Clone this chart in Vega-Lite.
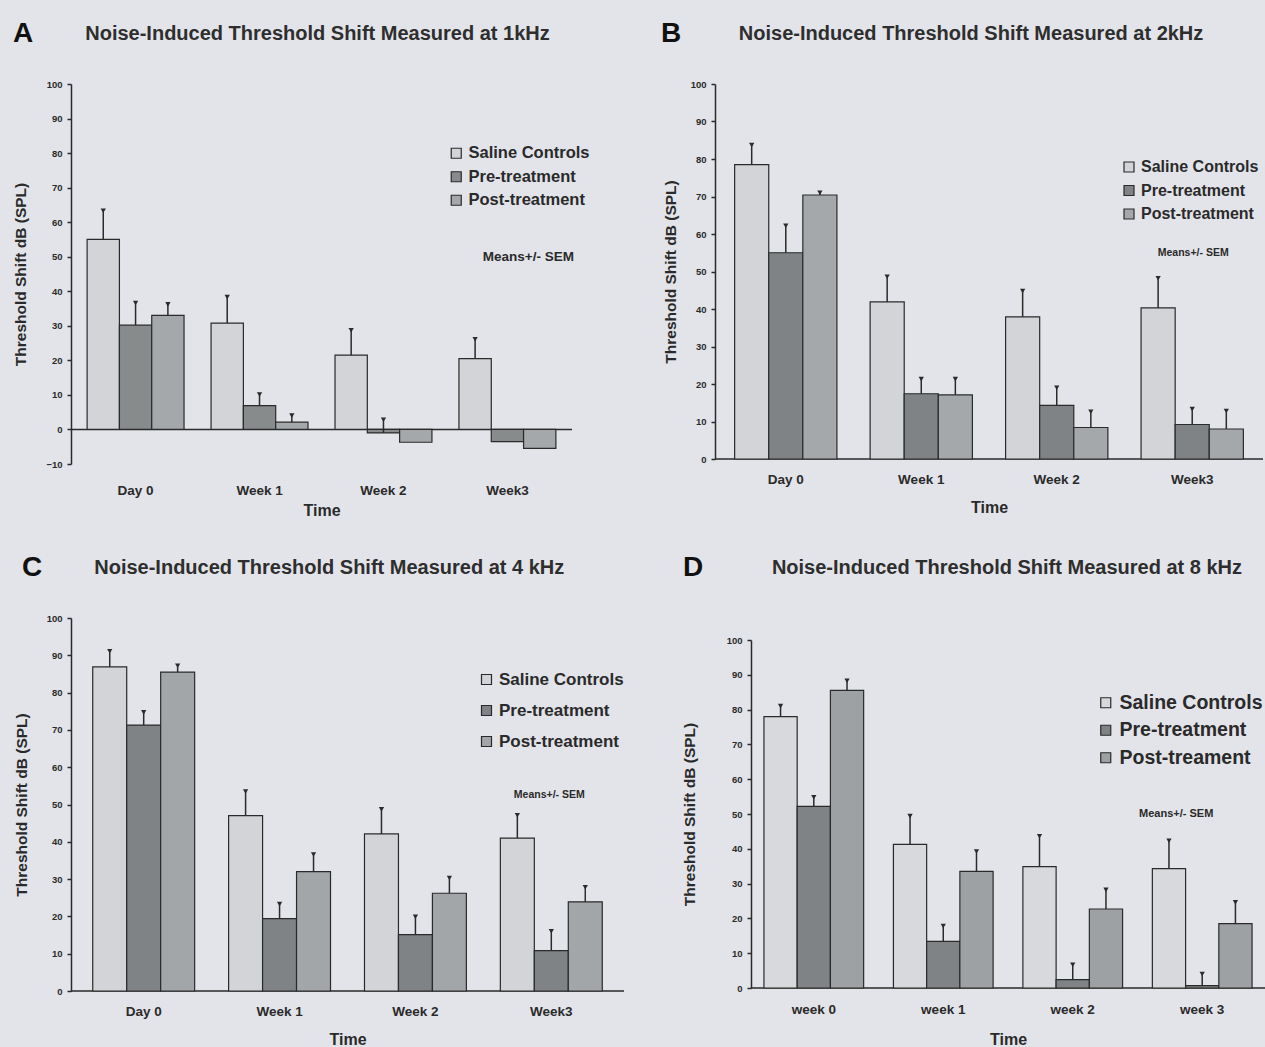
{
  "$schema": "https://vega.github.io/schema/vega-lite/v6.json",
  "background": "#e3e4e9",
  "padding": {"left": 13, "top": 20, "right": 0, "bottom": 0},
  "config": {
    "font": "Liberation Sans",
    "view": {"stroke": null},
    "axis": {"grid": false, "labelFont": "Liberation Sans", "labelFontWeight": "bold", "labelColor": "#2a2a2a", "titleFont": "Liberation Sans", "titleFontWeight": "bold", "titleColor": "#2a2a2a", "domainColor": "#2a2a2a", "tickColor": "#2a2a2a"},
    "axisY": {"labelFontSize": 9.5, "labelOverlap": false, "tickCount": 20, "tickSize": 4, "domainWidth": 1.5, "tickWidth": 1.5, "labelPadding": 5, "titleFontSize": 15.5, "titlePadding": 12},
    "axisX": {"labelFontSize": 13.5, "labelOverlap": false, "titleFontSize": 16, "domain": false, "ticks": false, "labelAngle": 0},
    "legend": {"symbolType": "square", "symbolSize": 100, "symbolStrokeColor": "#2a2a2a", "symbolStrokeWidth": 1.2, "labelFont": "Liberation Sans", "labelFontWeight": "bold", "labelColor": "#2a2a2a", "labelFontSize": 16.5, "labelOffset": 4},
    "title": {"anchor": "start", "frame": "group", "font": "Liberation Sans", "fontSize": 28, "fontWeight": "bold", "color": "#111111", "subtitleFont": "Liberation Sans", "subtitleFontSize": 20, "subtitleFontWeight": "bold", "subtitleColor": "#2e2e2e", "subtitlePadding": -24}
  },
  "datasets": {
    "bars": [
      {"panel": "A", "time": "Day 0", "group": "Saline Controls", "v": 55, "hi": 63.3},
      {"panel": "A", "time": "Day 0", "group": "Pre-treatment", "v": 30.2, "hi": 36.6},
      {"panel": "A", "time": "Day 0", "group": "Post-treatment", "v": 33, "hi": 36.2},
      {"panel": "A", "time": "Week 1", "group": "Saline Controls", "v": 30.8, "hi": 38.3},
      {"panel": "A", "time": "Week 1", "group": "Pre-treatment", "v": 6.9, "hi": 10.1},
      {"panel": "A", "time": "Week 1", "group": "Post-treatment", "v": 2.1, "hi": 4.0},
      {"panel": "A", "time": "Week 2", "group": "Saline Controls", "v": 21.5, "hi": 28.7},
      {"panel": "A", "time": "Week 2", "group": "Pre-treatment", "v": -1, "hi": 2.8},
      {"panel": "A", "time": "Week 2", "group": "Post-treatment", "v": -3.7},
      {"panel": "A", "time": "Week3", "group": "Saline Controls", "v": 20.5, "hi": 26.1},
      {"panel": "A", "time": "Week3", "group": "Pre-treatment", "v": -3.5},
      {"panel": "A", "time": "Week3", "group": "Post-treatment", "v": -5.5},

      {"panel": "B", "time": "Day 0", "group": "Saline Controls", "v": 78.5, "hi": 83.7},
      {"panel": "B", "time": "Day 0", "group": "Pre-treatment", "v": 55, "hi": 62.2},
      {"panel": "B", "time": "Day 0", "group": "Post-treatment", "v": 70.4, "hi": 71},
      {"panel": "B", "time": "Week 1", "group": "Saline Controls", "v": 41.9, "hi": 48.6},
      {"panel": "B", "time": "Week 1", "group": "Pre-treatment", "v": 17.4, "hi": 21.3},
      {"panel": "B", "time": "Week 1", "group": "Post-treatment", "v": 17.1, "hi": 21.3},
      {"panel": "B", "time": "Week 2", "group": "Saline Controls", "v": 37.9, "hi": 44.8},
      {"panel": "B", "time": "Week 2", "group": "Pre-treatment", "v": 14.3, "hi": 19},
      {"panel": "B", "time": "Week 2", "group": "Post-treatment", "v": 8.4, "hi": 12.6},
      {"panel": "B", "time": "Week3", "group": "Saline Controls", "v": 40.3, "hi": 48.2},
      {"panel": "B", "time": "Week3", "group": "Pre-treatment", "v": 9.2, "hi": 13.3},
      {"panel": "B", "time": "Week3", "group": "Post-treatment", "v": 8, "hi": 12.8},

      {"panel": "C", "time": "Day 0", "group": "Saline Controls", "v": 86.9, "hi": 91.1},
      {"panel": "C", "time": "Day 0", "group": "Pre-treatment", "v": 71.3, "hi": 74.7},
      {"panel": "C", "time": "Day 0", "group": "Post-treatment", "v": 85.5, "hi": 87.2},
      {"panel": "C", "time": "Week 1", "group": "Saline Controls", "v": 47, "hi": 53.5},
      {"panel": "C", "time": "Week 1", "group": "Pre-treatment", "v": 19.4, "hi": 23.3},
      {"panel": "C", "time": "Week 1", "group": "Post-treatment", "v": 32, "hi": 36.6},
      {"panel": "C", "time": "Week 2", "group": "Saline Controls", "v": 42.1, "hi": 48.7},
      {"panel": "C", "time": "Week 2", "group": "Pre-treatment", "v": 15.1, "hi": 19.9},
      {"panel": "C", "time": "Week 2", "group": "Post-treatment", "v": 26.2, "hi": 30.3},
      {"panel": "C", "time": "Week3", "group": "Saline Controls", "v": 41, "hi": 47.1},
      {"panel": "C", "time": "Week3", "group": "Pre-treatment", "v": 10.8, "hi": 16},
      {"panel": "C", "time": "Week3", "group": "Post-treatment", "v": 23.9, "hi": 27.8},

      {"panel": "D", "time": "week 0", "group": "Saline Controls", "v": 78, "hi": 81},
      {"panel": "D", "time": "week 0", "group": "Pre-treatment", "v": 52.2, "hi": 54.8},
      {"panel": "D", "time": "week 0", "group": "Post-treament", "v": 85.5, "hi": 88.3},
      {"panel": "D", "time": "week 1", "group": "Saline Controls", "v": 41.3, "hi": 49.4},
      {"panel": "D", "time": "week 1", "group": "Pre-treatment", "v": 13.4, "hi": 17.8},
      {"panel": "D", "time": "week 1", "group": "Post-treament", "v": 33.5, "hi": 39.2},
      {"panel": "D", "time": "week 2", "group": "Saline Controls", "v": 34.9, "hi": 43.6},
      {"panel": "D", "time": "week 2", "group": "Pre-treatment", "v": 2.4, "hi": 6.7},
      {"panel": "D", "time": "week 2", "group": "Post-treament", "v": 22.7, "hi": 28.2},
      {"panel": "D", "time": "week 3", "group": "Saline Controls", "v": 34.3, "hi": 42.3},
      {"panel": "D", "time": "week 3", "group": "Pre-treatment", "v": 0.7, "hi": 4.0},
      {"panel": "D", "time": "week 3", "group": "Post-treament", "v": 18.5, "hi": 24.6}
    ]
  },
  "resolve": {"scale": {"x": "independent", "y": "independent", "color": "independent", "xOffset": "independent"}, "legend": {"color": "independent"}},
  "spacing": 35,
  "vconcat": [
    {
      "spacing": 71,
      "resolve": {"scale": {"x": "independent", "y": "independent", "color": "independent", "xOffset": "independent"}, "legend": {"color": "independent"}},
      "hconcat": [
        {
          "width": 501, "height": 380,
          "title": {"text": "A", "subtitle": "\u200b\u00a0\u00a0\u00a0\u00a0\u00a0\u00a0\u00a0\u00a0\u00a0\u00a0\u00a0\u00a0\u00a0Noise-Induced Threshold Shift Measured at 1kHz", "dx": -58, "offset": 31},
          "data": {"name": "bars"},
          "transform": [{"filter": "datum.panel === 'A'"}],
          "layer": [
            {"data": {"values": [{"zero": 0}]}, "mark": {"type": "rule", "color": "#2a2a2a", "strokeWidth": 1.5}, "encoding": {"y": {"field": "zero", "type": "quantitative"}}},
            {"mark": {"type": "bar", "stroke": "#2a2a2a", "strokeWidth": 1.2},
             "encoding": {
               "x": {"field": "time", "type": "nominal", "scale": {"domain": ["Day 0", "Week 1", "Week 2", "Week3"], "paddingInner": 0.218, "paddingOuter": 0.13}, "axis": {"title": "Time", "labelPadding": 19, "titlePadding": 6}},
               "xOffset": {"field": "group", "type": "nominal", "scale": {"domain": ["Saline Controls", "Pre-treatment", "Post-treatment"], "paddingInner": 0, "paddingOuter": 0}},
               "y": {"field": "v", "type": "quantitative", "scale": {"domain": [-10, 100], "nice": false}, "axis": {"title": "Threshold Shift dB (SPL)", "labelOverlap": false, "tickCount": 20, "titlePadding": 17, "values": [-10, 0, 10, 20, 30, 40, 50, 60, 70, 80, 90, 100]}},
               "color": {"field": "group", "type": "nominal", "scale": {"domain": ["Saline Controls", "Pre-treatment", "Post-treatment"], "range": ["#d3d4d7", "#878b8c", "#a5a8aa"]}, "legend": {"title": null, "orient": "none", "legendX": 377, "legendY": 61, "rowPadding": 6.5}}
             }},
            {"transform": [{"filter": "isValid(datum.hi)"}], "mark": {"type": "rule", "color": "#2a2a2a", "strokeWidth": 1.5},
             "encoding": {"x": {"field": "time", "type": "nominal"}, "xOffset": {"field": "group", "type": "nominal"}, "y": {"field": "v", "type": "quantitative"}, "y2": {"field": "hi"}}},
            {"transform": [{"filter": "isValid(datum.hi)"}], "mark": {"type": "point", "shape": "triangle-down", "filled": true, "size": 28, "color": "#2a2a2a", "opacity": 1},
             "encoding": {"x": {"field": "time", "type": "nominal"}, "xOffset": {"field": "group", "type": "nominal"}, "y": {"field": "hi", "type": "quantitative"}}},
            {"data": {"values": [{"time": "Week3", "y": 50, "note": "Means+/- SEM"}]}, "mark": {"type": "text", "fontSize": 13.5, "fontWeight": "bold", "dx": 21, "color": "#2a2a2a"},
             "encoding": {"x": {"field": "time", "type": "nominal"}, "y": {"field": "y", "type": "quantitative"}, "text": {"field": "note"}}}
          ]
        },
        {
          "width": 548, "height": 375,
          "title": {"text": "B", "subtitle": "\u200b\u00a0\u00a0\u00a0\u00a0\u00a0\u00a0\u00a0\u00a0\u00a0\u00a0\u00a0\u00a0\u00a0\u00a0Noise-Induced Threshold Shift Measured at 2kHz", "dx": -54, "offset": 31},
          "data": {"name": "bars"},
          "transform": [{"filter": "datum.panel === 'B'"}],
          "layer": [
            {"data": {"values": [{"zero": 0}]}, "mark": {"type": "rule", "color": "#2a2a2a", "strokeWidth": 1.5}, "encoding": {"y": {"field": "zero", "type": "quantitative"}}},
            {"mark": {"type": "bar", "stroke": "#2a2a2a", "strokeWidth": 1.2},
             "encoding": {
               "x": {"field": "time", "type": "nominal", "scale": {"domain": ["Day 0", "Week 1", "Week 2", "Week3"], "paddingInner": 0.245, "paddingOuter": 0.145}, "axis": {"title": "Time", "labelPadding": 13, "titlePadding": 14}},
               "xOffset": {"field": "group", "type": "nominal", "scale": {"domain": ["Saline Controls", "Pre-treatment", "Post-treatment"], "paddingInner": 0, "paddingOuter": 0}},
               "y": {"field": "v", "type": "quantitative", "scale": {"domain": [0, 100], "nice": false}, "axis": {"title": "Threshold Shift dB (SPL)", "labelOverlap": false, "tickCount": 20, "values": [0, 10, 20, 30, 40, 50, 60, 70, 80, 90, 100]}},
               "color": {"field": "group", "type": "nominal", "scale": {"domain": ["Saline Controls", "Pre-treatment", "Post-treatment"], "range": ["#d3d4d7", "#7f8385", "#a5a8aa"]}, "legend": {"title": null, "orient": "none", "legendX": 406, "legendY": 75, "rowPadding": 7.5, "labelFontSize": 16}}
             }},
            {"transform": [{"filter": "isValid(datum.hi)"}], "mark": {"type": "rule", "color": "#2a2a2a", "strokeWidth": 1.5},
             "encoding": {"x": {"field": "time", "type": "nominal"}, "xOffset": {"field": "group", "type": "nominal"}, "y": {"field": "v", "type": "quantitative"}, "y2": {"field": "hi"}}},
            {"transform": [{"filter": "isValid(datum.hi)"}], "mark": {"type": "point", "shape": "triangle-down", "filled": true, "size": 28, "color": "#2a2a2a", "opacity": 1},
             "encoding": {"x": {"field": "time", "type": "nominal"}, "xOffset": {"field": "group", "type": "nominal"}, "y": {"field": "hi", "type": "quantitative"}}},
            {"data": {"values": [{"time": "Week3", "y": 55, "note": "Means+/- SEM"}]}, "mark": {"type": "text", "fontSize": 10.5, "fontWeight": "bold", "dx": 1, "color": "#2a2a2a"},
             "encoding": {"x": {"field": "time", "type": "nominal"}, "y": {"field": "y", "type": "quantitative"}, "text": {"field": "note"}}}
          ]
        }
      ]
    },
    {
      "spacing": 57,
      "resolve": {"scale": {"x": "independent", "y": "independent", "color": "independent", "xOffset": "independent"}, "legend": {"color": "independent"}},
      "hconcat": [
        {
          "width": 553, "height": 373,
          "title": {"text": "C", "subtitle": "\u200b\u00a0\u00a0\u00a0\u00a0\u00a0\u00a0\u00a0\u00a0\u00a0\u00a0\u00a0\u00a0\u00a0Noise-Induced Threshold Shift Measured at 4 kHz", "dx": -49, "offset": 31},
          "data": {"name": "bars"},
          "transform": [{"filter": "datum.panel === 'C'"}],
          "layer": [
            {"data": {"values": [{"zero": 0}]}, "mark": {"type": "rule", "color": "#2a2a2a", "strokeWidth": 1.5}, "encoding": {"y": {"field": "zero", "type": "quantitative"}}},
            {"mark": {"type": "bar", "stroke": "#2a2a2a", "strokeWidth": 1.2},
             "encoding": {
               "x": {"field": "time", "type": "nominal", "scale": {"domain": ["Day 0", "Week 1", "Week 2", "Week3"], "paddingInner": 0.25, "paddingOuter": 0.16}, "axis": {"title": "Time", "labelPadding": 13, "titlePadding": 14}},
               "xOffset": {"field": "group", "type": "nominal", "scale": {"domain": ["Saline Controls", "Pre-treatment", "Post-treatment"], "paddingInner": 0, "paddingOuter": 0}},
               "y": {"field": "v", "type": "quantitative", "scale": {"domain": [0, 100], "nice": false}, "axis": {"title": "Threshold Shift dB (SPL)", "labelOverlap": false, "tickCount": 20, "titlePadding": 17, "values": [0, 10, 20, 30, 40, 50, 60, 70, 80, 90, 100]}},
               "color": {"field": "group", "type": "nominal", "scale": {"domain": ["Saline Controls", "Pre-treatment", "Post-treatment"], "range": ["#d3d4d7", "#7f8385", "#a3a6a8"]}, "legend": {"title": null, "orient": "none", "legendX": 407, "legendY": 53, "rowPadding": 13, "labelFontSize": 17}}
             }},
            {"transform": [{"filter": "isValid(datum.hi)"}], "mark": {"type": "rule", "color": "#2a2a2a", "strokeWidth": 1.5},
             "encoding": {"x": {"field": "time", "type": "nominal"}, "xOffset": {"field": "group", "type": "nominal"}, "y": {"field": "v", "type": "quantitative"}, "y2": {"field": "hi"}}},
            {"transform": [{"filter": "isValid(datum.hi)"}], "mark": {"type": "point", "shape": "triangle-down", "filled": true, "size": 28, "color": "#2a2a2a", "opacity": 1},
             "encoding": {"x": {"field": "time", "type": "nominal"}, "xOffset": {"field": "group", "type": "nominal"}, "y": {"field": "hi", "type": "quantitative"}}},
            {"data": {"values": [{"time": "Week3", "y": 52.5, "note": "Means+/- SEM"}]}, "mark": {"type": "text", "fontSize": 10.5, "fontWeight": "bold", "dx": -2, "color": "#2a2a2a"},
             "encoding": {"x": {"field": "time", "type": "nominal"}, "y": {"field": "y", "type": "quantitative"}, "text": {"field": "note"}}}
          ]
        },
        {
          "width": 514, "height": 370,
          "title": {"text": "D", "subtitle": "\u200b\u00a0\u00a0\u00a0\u00a0\u00a0\u00a0\u00a0\u00a0\u00a0\u00a0\u00a0\u00a0\u00a0\u00a0\u00a0\u00a0Noise-Induced Threshold Shift Measured at 8 kHz", "dx": -68, "offset": 36},
          "data": {"name": "bars"},
          "transform": [{"filter": "datum.panel === 'D'"}],
          "layer": [
            {"data": {"values": [{"zero": 0}]}, "mark": {"type": "rule", "color": "#2a2a2a", "strokeWidth": 1.5}, "encoding": {"y": {"field": "zero", "type": "quantitative"}}},
            {"mark": {"type": "bar", "stroke": "#2a2a2a", "strokeWidth": 1.2},
             "encoding": {
               "x": {"field": "time", "type": "nominal", "scale": {"domain": ["week 0", "week 1", "week 2", "week 3"], "paddingInner": 0.23, "paddingOuter": 0.1}, "axis": {"title": "Time", "labelPadding": 14, "titlePadding": 16}},
               "xOffset": {"field": "group", "type": "nominal", "scale": {"domain": ["Saline Controls", "Pre-treatment", "Post-treament"], "paddingInner": 0, "paddingOuter": 0}},
               "y": {"field": "v", "type": "quantitative", "scale": {"domain": [0, 100], "nice": false, "range": [370, 22]}, "axis": {"title": "Threshold Shift dB (SPL)", "labelOverlap": false, "tickCount": 20, "titlePadding": 29, "values": [0, 10, 20, 30, 40, 50, 60, 70, 80, 90, 100]}},
               "color": {"field": "group", "type": "nominal", "scale": {"domain": ["Saline Controls", "Pre-treatment", "Post-treament"], "range": ["#d8d9dc", "#7f8385", "#9ea1a3"]}, "legend": {"title": null, "orient": "none", "legendX": 345, "legendY": 75, "rowPadding": 6.5, "labelFontSize": 19.5}}
             }},
            {"transform": [{"filter": "isValid(datum.hi)"}], "mark": {"type": "rule", "color": "#2a2a2a", "strokeWidth": 1.5},
             "encoding": {"x": {"field": "time", "type": "nominal"}, "xOffset": {"field": "group", "type": "nominal"}, "y": {"field": "v", "type": "quantitative"}, "y2": {"field": "hi"}}},
            {"transform": [{"filter": "isValid(datum.hi)"}], "mark": {"type": "point", "shape": "triangle-down", "filled": true, "size": 28, "color": "#2a2a2a", "opacity": 1},
             "encoding": {"x": {"field": "time", "type": "nominal"}, "xOffset": {"field": "group", "type": "nominal"}, "y": {"field": "hi", "type": "quantitative"}}},
            {"data": {"values": [{"time": "week 3", "y": 50, "note": "Means+/- SEM"}]}, "mark": {"type": "text", "fontSize": 11, "fontWeight": "bold", "dx": -26, "color": "#2a2a2a"},
             "encoding": {"x": {"field": "time", "type": "nominal"}, "y": {"field": "y", "type": "quantitative"}, "text": {"field": "note"}}}
          ]
        }
      ]
    }
  ]
}
